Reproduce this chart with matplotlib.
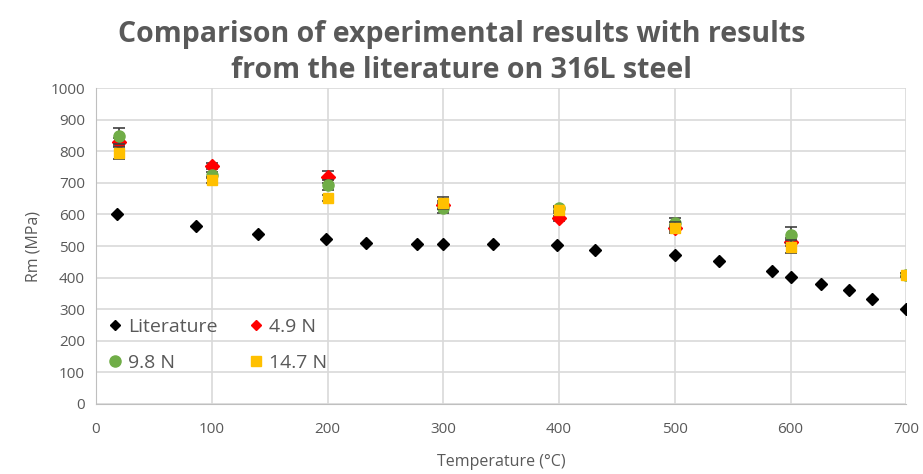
import matplotlib.pyplot as plt
from matplotlib.lines import Line2D

# literature data (316L steel)
lit_temp = [18, 86, 140, 199, 233, 277, 300, 343, 398, 431, 500, 538, 584, 600, 626, 650, 670, 700]
lit_rm = [601, 563, 539, 523, 509, 506, 506, 506, 502, 488, 472, 451, 422, 402, 379, 360, 333, 300]

# experimental data
exp_temp = [20, 100, 200, 300, 400, 500, 600, 700]
rm_49 = [830, 753, 719, 630, 588, 556, 513]
err_49 = [12, 10, 19, 12, 8, 10, 12]
rm_98 = [848, 725, 693, 620, 619, 574, 535, 409]
err_98 = [25, 10, 15, 16, 8, 15, 25, 5]
rm_147 = [795, 709, 653, 637, 614, 558, 498, 408]
err_147 = [20, 10, 10, 19, 8, 17, 21, 5]

grey = '#595959'
plt.rcParams['font.family'] = ['Open Sans', 'DejaVu Sans']

fig, ax = plt.subplots(figsize=(9.23, 4.74), dpi=100)
fig.subplots_adjust(left=0.104, right=0.982, top=0.814, bottom=0.148)

eb = dict(ecolor='#404040', elinewidth=1.2, capsize=4, capthick=1.2, linestyle='none')
ax.plot(lit_temp, lit_rm, linestyle='none', marker='D', color='black', markersize=6.5, zorder=3)
ax.errorbar(exp_temp[:7], rm_49, yerr=err_49, marker='D', color='red', markersize=7, zorder=4, **eb)
ax.errorbar(exp_temp, rm_98, yerr=err_98, marker='o', color='#70AD47', markersize=8, zorder=5, **eb)
ax.errorbar(exp_temp, rm_147, yerr=err_147, marker='s', color='#FFC000', markersize=7, zorder=6, **eb)

ax.set_xlim(0, 700)
ax.set_ylim(0, 1000)
ax.set_xticks(range(0, 701, 100))
ax.set_yticks(range(0, 1001, 100))
ax.grid(True, color='#d9d9d9', linewidth=1.2)
ax.set_axisbelow(True)
for s in ['top', 'right']:
    ax.spines[s].set_visible(False)
for s in ['left', 'bottom']:
    ax.spines[s].set_color('#bfbfbf')
ax.tick_params(colors=grey, labelsize=11, length=0, pad=8)
ax.tick_params(axis='x', pad=13)

ax.set_xlabel('Temperature (°C)', color=grey, fontsize=11.5, labelpad=12)
ax.set_ylabel('Rm (MPa)', color=grey, fontsize=11.5, labelpad=6)

fig.suptitle('Comparison of experimental results with results\nfrom the literature on 316L steel',
             fontsize=20.5, fontweight='bold', color=grey, y=0.958, linespacing=1.3)

# legend (markers only, no error bars)
handles = [
    Line2D([], [], linestyle='none', marker='D', color='black', markersize=5.5),
    Line2D([], [], linestyle='none', marker='o', color='#70AD47', markersize=8),
    Line2D([], [], linestyle='none', marker='D', color='red', markersize=5.5),
    Line2D([], [], linestyle='none', marker='s', color='#FFC000', markersize=6.5),
]
labels = ['Literature', '9.8 N', '4.9 N', '14.7 N']
ax.legend(handles=handles, labels=labels, ncol=2,
          loc='lower left', bbox_to_anchor=(-0.01, 0.045), frameon=False,
          fontsize=14, labelcolor=grey, handletextpad=0.15, columnspacing=1.5,
          handlelength=1.0, labelspacing=0.95)

plt.savefig('out.png')
